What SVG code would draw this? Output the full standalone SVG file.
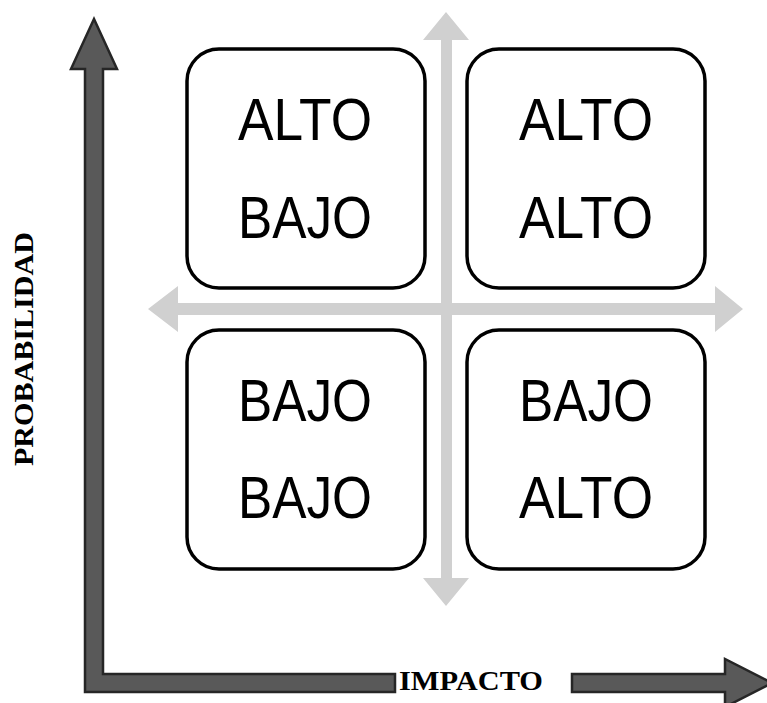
<svg xmlns="http://www.w3.org/2000/svg" width="767" height="703" viewBox="0 0 767 703">
<style>
.box{fill:#fff;stroke:#000;stroke-width:3.5}
.lbl{font-family:"Liberation Sans",Arial,sans-serif;font-size:60px;fill:#000;text-anchor:middle}
.axis{fill:#595959;stroke:#262626;stroke-width:2.5;stroke-linejoin:miter}
.cross{fill:#d0d0d0}
.ax{font-family:"Liberation Serif","Times New Roman",serif;font-weight:bold;font-size:28px;fill:#000;text-anchor:middle}
</style>
<rect width="767" height="703" fill="#fff"/>
<g id="connectors">
<path class="cross" d="M441 40 L423 40 L446 12 L469 40 L452 40 L452 303 L715 303 L715 286 L743 309 L715 332 L715 315 L452 315 L452 578 L469 578 L446 606 L423 578 L441 578 L441 315 L178 315 L178 332 L148 309 L178 286 L178 303 L441 303 Z"/>
<path class="axis" d="M85 69 L71 69 L94 19 L117 69 L103 69 L103 674 L395 674 L395 692 L85 692 Z"/>
<path class="axis" d="M572 674 L725 674 L725 659 L772 683 L725 707 L725 692 L572 692 Z"/>
</g>
<g id="node-tl">
<rect class="box" x="187" y="49" width="238" height="239" rx="32"/>
<text class="lbl" x="305" y="140" textLength="134" lengthAdjust="spacingAndGlyphs">ALTO</text>
<text class="lbl" x="305" y="238" textLength="134" lengthAdjust="spacingAndGlyphs">BAJO</text>
</g>
<g id="node-tr">
<rect class="box" x="467" y="49" width="238" height="239" rx="32"/>
<text class="lbl" x="586" y="140" textLength="134" lengthAdjust="spacingAndGlyphs">ALTO</text>
<text class="lbl" x="586" y="238" textLength="134" lengthAdjust="spacingAndGlyphs">ALTO</text>
</g>
<g id="node-bl">
<rect class="box" x="187" y="330" width="238" height="239" rx="32"/>
<text class="lbl" x="305" y="421" textLength="134" lengthAdjust="spacingAndGlyphs">BAJO</text>
<text class="lbl" x="305" y="518" textLength="134" lengthAdjust="spacingAndGlyphs">BAJO</text>
</g>
<g id="node-br">
<rect class="box" x="467" y="330" width="238" height="239" rx="32"/>
<text class="lbl" x="586" y="421" textLength="134" lengthAdjust="spacingAndGlyphs">BAJO</text>
<text class="lbl" x="586" y="518" textLength="134" lengthAdjust="spacingAndGlyphs">ALTO</text>
</g>
<g id="axis-labels">
<text class="ax" x="471" y="690" textLength="144" lengthAdjust="spacingAndGlyphs">IMPACTO</text>
<text class="ax" transform="translate(33 349) rotate(-90)" x="0" y="0" textLength="234" lengthAdjust="spacingAndGlyphs">PROBABILIDAD</text>
</g>
</svg>
